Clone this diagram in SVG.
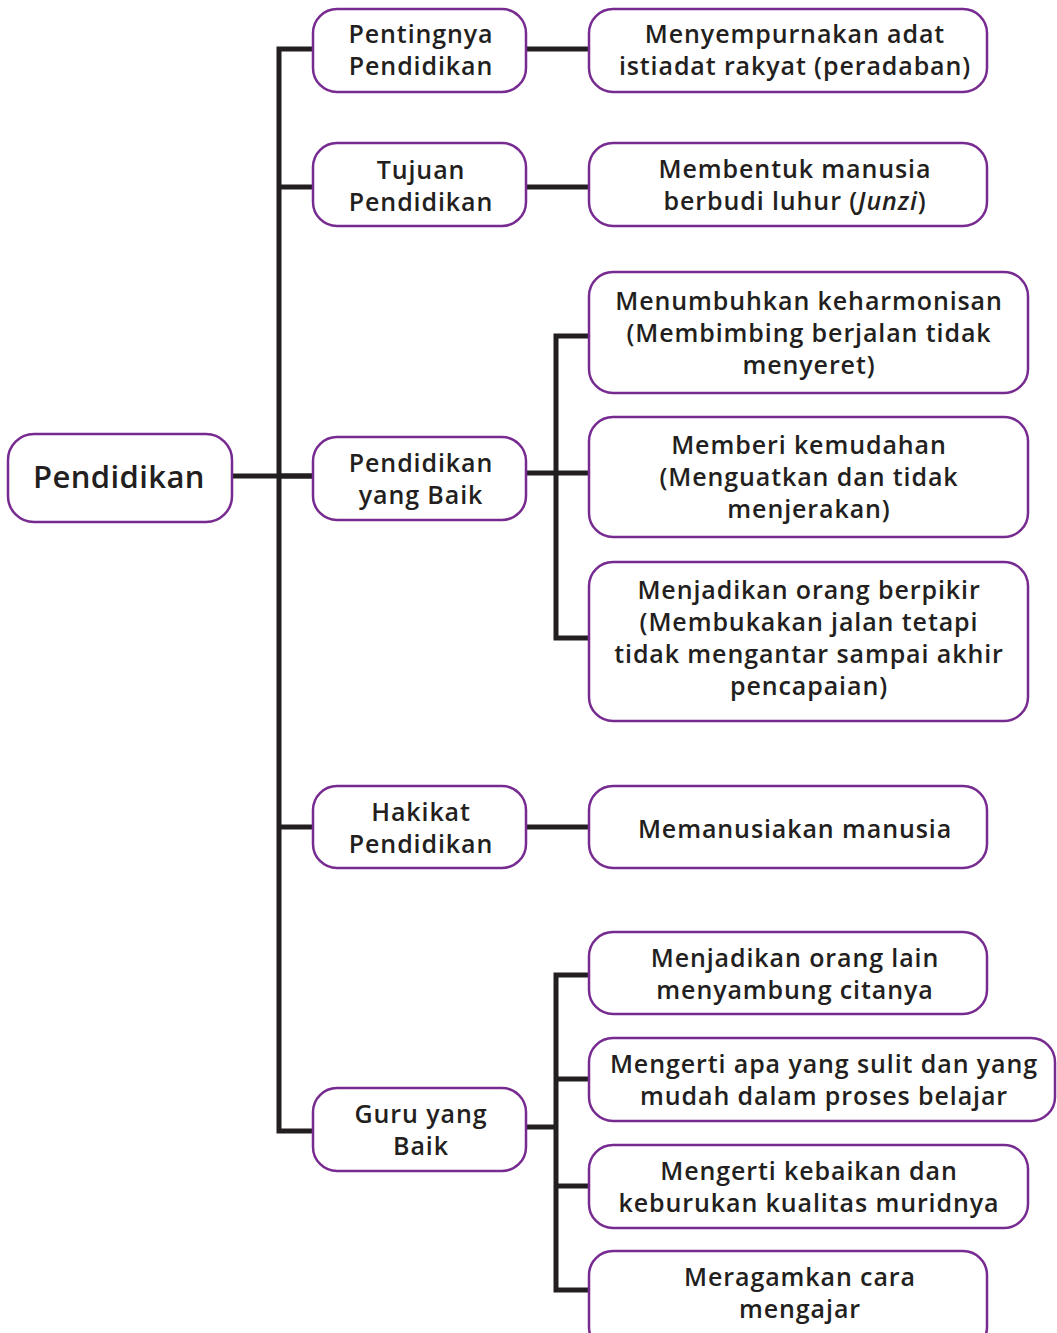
<svg xmlns="http://www.w3.org/2000/svg" width="1057" height="1333" viewBox="0 0 1057 1333">
<style>
.box{fill:#fff;stroke:#772a90;stroke-width:2.5}
.ln{fill:none;stroke:#231f20;stroke-width:5;stroke-linecap:butt;stroke-linejoin:miter}
text{font-family:"Open Sans","Noto Sans",sans-serif;font-weight:600;font-size:25px;letter-spacing:0.9px;fill:#231f20;text-anchor:middle}
.root{font-size:31px;letter-spacing:0.4px}
</style>
<rect width="1057" height="1333" fill="#fff"/>
<g id="connectors">
<path class="ln" d="M232 476H313"/>
<path class="ln" d="M313 49H279V1131H313"/>
<path class="ln" d="M279 187H313"/>
<path class="ln" d="M279 476H313"/>
<path class="ln" d="M279 827H313"/>
<path class="ln" d="M526 49H589"/>
<path class="ln" d="M526 187H589"/>
<path class="ln" d="M526 827H589"/>
<path class="ln" d="M526 473H589"/>
<path class="ln" d="M589 336H556V638H589"/>
<path class="ln" d="M526 1127H556"/>
<path class="ln" d="M589 975H556V1290H589"/>
<path class="ln" d="M556 1079H589"/>
<path class="ln" d="M556 1186H589"/>
</g>
<g id="n-root"><rect class="box" x="8" y="434" width="224" height="88" rx="26"/><text class="root" x="119" y="488">Pendidikan</text></g>
<g id="n-pentingnya"><rect class="box" x="313" y="9" width="213" height="83" rx="24"/><text x="421" y="43">Pentingnya</text><text x="421" y="75">Pendidikan</text></g>
<g id="n-tujuan"><rect class="box" x="313" y="143" width="213" height="83" rx="24"/><text x="421" y="179">Tujuan</text><text x="421" y="211">Pendidikan</text></g>
<g id="n-baik"><rect class="box" x="313" y="437" width="213" height="83" rx="24"/><text x="421" y="472">Pendidikan</text><text x="421" y="504">yang Baik</text></g>
<g id="n-hakikat"><rect class="box" x="313" y="786" width="213" height="82" rx="24"/><text x="421" y="821">Hakikat</text><text x="421" y="853">Pendidikan</text></g>
<g id="n-guru"><rect class="box" x="313" y="1088" width="213" height="83" rx="24"/><text x="421" y="1123">Guru yang</text><text x="421" y="1155">Baik</text></g>
<g id="n-menyempurnakan"><rect class="box" x="589" y="9" width="398" height="83" rx="24"/><text x="795" y="43">Menyempurnakan adat</text><text x="795" y="75">istiadat rakyat (peradaban)</text></g>
<g id="n-membentuk"><rect class="box" x="589" y="143" width="398" height="83" rx="24"/><text x="795" y="178">Membentuk manusia</text><text x="795" y="210">berbudi luhur (<tspan font-style="italic">Junzi</tspan>)</text></g>
<g id="n-menumbuhkan"><rect class="box" x="589" y="272" width="439" height="121" rx="24"/><text x="809" y="310">Menumbuhkan keharmonisan</text><text x="809" y="342">(Membimbing berjalan tidak</text><text x="809" y="374">menyeret)</text></g>
<g id="n-memberi"><rect class="box" x="589" y="417" width="439" height="120" rx="24"/><text x="809" y="454">Memberi kemudahan</text><text x="809" y="486">(Menguatkan dan tidak</text><text x="809" y="518">menjerakan)</text></g>
<g id="n-berpikir"><rect class="box" x="589" y="562" width="439" height="159" rx="24"/><text x="809" y="599">Menjadikan orang berpikir</text><text x="809" y="631">(Membukakan jalan tetapi</text><text x="809" y="663">tidak mengantar sampai akhir</text><text x="809" y="695">pencapaian)</text></g>
<g id="n-memanusiakan"><rect class="box" x="589" y="786" width="398" height="82" rx="24"/><text x="795" y="838">Memanusiakan manusia</text></g>
<g id="n-menjadikan"><rect class="box" x="589" y="932" width="398" height="82" rx="24"/><text x="795" y="967">Menjadikan orang lain</text><text x="795" y="999">menyambung citanya</text></g>
<g id="n-mengerti-apa"><rect class="box" x="589" y="1038" width="466" height="83" rx="24"/><text x="824" y="1073">Mengerti apa yang sulit dan yang</text><text x="824" y="1105">mudah dalam proses belajar</text></g>
<g id="n-mengerti-kebaikan"><rect class="box" x="589" y="1145" width="439" height="83" rx="24"/><text x="809" y="1180">Mengerti kebaikan dan</text><text x="809" y="1212">keburukan kualitas muridnya</text></g>
<g id="n-meragamkan"><rect class="box" x="589" y="1251" width="398" height="100" rx="24"/><text x="800" y="1286">Meragamkan cara</text><text x="800" y="1318">mengajar</text></g>
</svg>
